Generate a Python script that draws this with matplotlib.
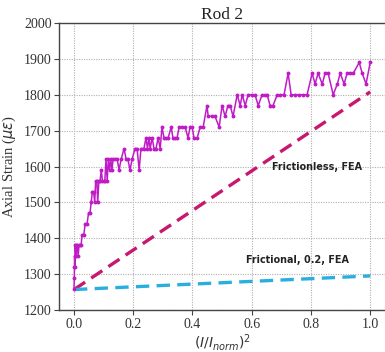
import matplotlib
matplotlib.use("Agg")
import matplotlib.pyplot as plt

# Experimental (measured) data
exp_x = [0.000, 0.001, 0.0015, 0.002, 0.003, 0.004, 0.006, 0.008, 0.011, 0.014, 0.017, 0.020,
         0.024, 0.027, 0.033, 0.038, 0.044, 0.049, 0.054, 0.058, 0.062, 0.066, 0.070, 0.073,
         0.077, 0.080, 0.084, 0.088, 0.092, 0.096, 0.100, 0.104, 0.108, 0.112, 0.116, 0.120,
         0.124, 0.128, 0.132, 0.139, 0.146, 0.152, 0.159, 0.169, 0.176, 0.182, 0.189, 0.196,
         0.206, 0.213, 0.220, 0.226, 0.236, 0.243, 0.248, 0.253, 0.257, 0.264, 0.270, 0.277,
         0.284, 0.291, 0.297, 0.304, 0.311, 0.318, 0.328, 0.334, 0.341, 0.348, 0.355, 0.365,
         0.375, 0.385, 0.392, 0.399, 0.405, 0.416, 0.426, 0.436, 0.449, 0.453, 0.466, 0.476,
         0.490, 0.500, 0.510, 0.520, 0.527, 0.537, 0.551, 0.561, 0.568, 0.578, 0.588, 0.601,
         0.611, 0.622, 0.635, 0.645, 0.652, 0.662, 0.672, 0.686, 0.696, 0.709, 0.723, 0.733,
         0.747, 0.760, 0.774, 0.787, 0.804, 0.814, 0.824, 0.838, 0.848, 0.858, 0.875, 0.889,
         0.899, 0.912, 0.922, 0.932, 0.943, 0.963, 0.973, 0.986, 1.000]
exp_y = [1258, 1290, 1320, 1350, 1320, 1380, 1350, 1380, 1380, 1350, 1380, 1380,
         1380, 1410, 1410, 1440, 1440, 1470, 1470, 1500, 1530, 1530, 1500, 1560,
         1560, 1500, 1560, 1560, 1590, 1560, 1560, 1560, 1620, 1560, 1620, 1590,
         1620, 1590, 1620, 1620, 1620, 1590, 1620, 1650, 1620, 1620, 1590, 1620,
         1650, 1650, 1590, 1650, 1650, 1680, 1650, 1680, 1650, 1680, 1650, 1650,
         1680, 1650, 1710, 1680, 1680, 1680, 1710, 1680, 1680, 1680, 1710, 1710,
         1710, 1680, 1710, 1710, 1680, 1680, 1710, 1710, 1770, 1740, 1740, 1740,
         1710, 1770, 1740, 1770, 1770, 1740, 1800, 1770, 1800, 1770, 1800, 1800,
         1800, 1770, 1800, 1800, 1800, 1770, 1770, 1800, 1800, 1800, 1860, 1800,
         1800, 1800, 1800, 1800, 1860, 1830, 1860, 1830, 1860, 1860, 1800, 1830,
         1860, 1830, 1860, 1860, 1860, 1890, 1860, 1830, 1890]

# FEA predictions (linear)
fea_x = [0.0, 1.0]
frictionless_y = [1257, 1808]
frictional_y = [1257, 1295]

xticks = [0.0, 0.2, 0.4, 0.6, 0.8, 1.0]
yticks = [1200, 1300, 1400, 1500, 1600, 1700, 1800, 1900, 2000]

plt.rcParams['mathtext.fontset'] = 'dejavusans'
fig = plt.figure(figsize=(3.85, 3.52), dpi=100)
ax = fig.add_axes([59.2 / 385, 1 - 310 / 352, (385 - 59.2) / 385, (310 - 23) / 352])

ax.plot(exp_x, exp_y, color='#c01cc6', lw=1.1, marker='o', ms=1.8, zorder=3)
ax.plot(fea_x, frictionless_y, color='#c8176e', lw=2.4, ls=(0, (4, 2.2)), zorder=2)
ax.plot(fea_x, frictional_y, color='#2aaee0', lw=2.4, ls=(0, (4, 2.2)), zorder=2)

ax.set_xlim(-0.05, 1.05)
ax.set_ylim(1200, 2000)
ax.set_xticks(xticks)
ax.set_yticks(yticks)
ax.set_xticklabels([f"{v:.1f}" for v in xticks])
ax.set_yticklabels([str(v) for v in yticks])
for lab in ax.get_xticklabels() + ax.get_yticklabels():
    lab.set_fontfamily('Liberation Serif')
    lab.set_fontsize(10)
    lab.set_color('#333333')
ax.tick_params(length=3.5, width=0.8, color='#444444', pad=2)
ax.grid(True, ls=(0, (1, 1.2)), color='#b0b0b0', lw=0.8)
ax.set_axisbelow(True)
for s in ax.spines.values():
    s.set_color('#444444')
    s.set_linewidth(1.0)
ax.spines['right'].set_visible(False)

ax.set_title('Rod 2', family='Liberation Serif', fontsize=12.5, color='#222222', pad=3)
ax.set_ylabel(r'Axial Strain ($\mu\epsilon$)', family='Liberation Serif', fontsize=10.5,
              color='#333333', labelpad=4)
ax.set_xlabel(r'$(I/I_{norm})^2$', fontsize=10, color='#333333', labelpad=1)

ax.text(0.82, 1600, 'Frictionless, FEA', ha='center', va='center', fontsize=6.9,
        fontweight='bold', family='DejaVu Sans', color='#222222')
ax.text(0.755, 1339, 'Frictional, 0.2, FEA', ha='center', va='center', fontsize=6.9,
        fontweight='bold', family='DejaVu Sans', color='#222222')

fig.savefig('out.png', dpi=100)
